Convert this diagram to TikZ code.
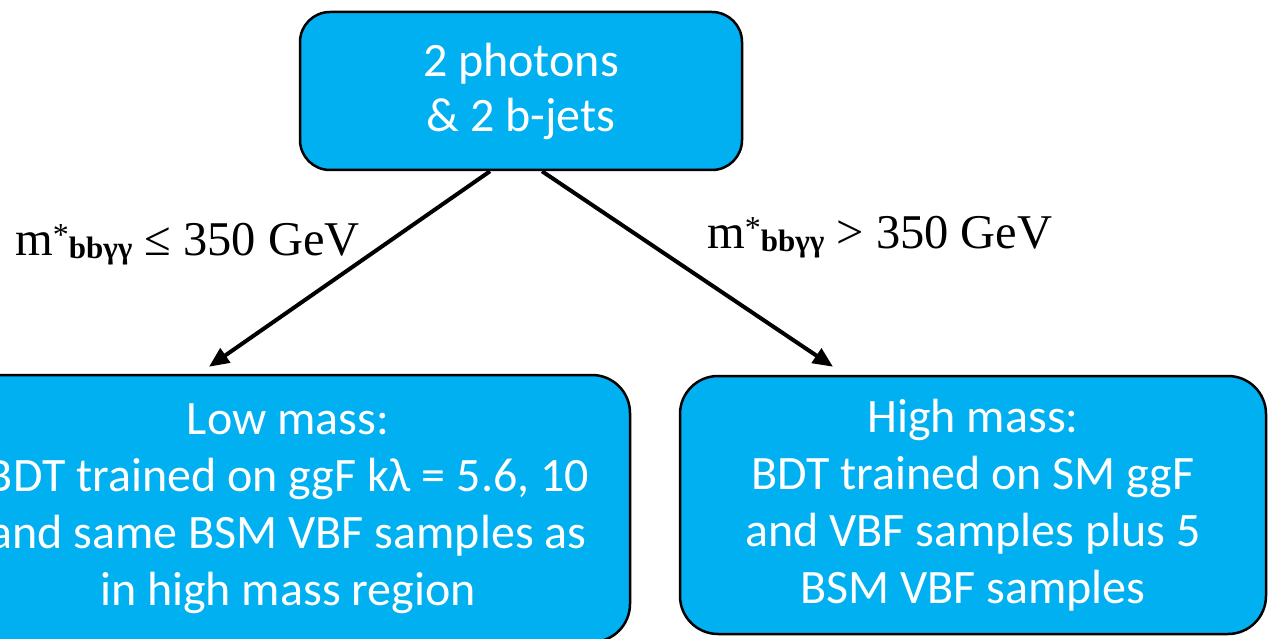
\documentclass[tikz,border=0pt]{standalone}
\usepackage{fontspec}
\setmainfont{Carlito}
\newfontfamily\tnr{Liberation Serif}
\usetikzlibrary{arrows.meta,calc}
\definecolor{boxblue}{RGB}{0,176,240}
\tikzset{
  box/.style={draw=black, line width=2.5pt, fill=boxblue, text=white,
    align=center, inner sep=0pt, font=\fontsize{48}{57}\selectfont},
  flow/.style={line width=4pt, -{Triangle[length=20pt,width=17pt]}},
  cutlabel/.style={inner sep=0pt, anchor=base west, font=\tnr\fontsize{48.5}{48.5}\selectfont}
}
\begin{document}
\begin{tikzpicture}[x=1pt,y=1pt]
\useasboundingbox (0,0) rectangle (1268,-639);
\clip (0,0) rectangle (1268,-639);
% selection step
\node[box, minimum width=442pt, minimum height=158pt, rounded corners=30pt,
      font=\fontsize{48}{55}\selectfont] (top) at (521,-91)
  {2 photons\\\& 2 b-jets};
% the two mass categories
\node[box, minimum width=684pt, minimum height=267pt, rounded corners=38pt] (low) at (288,-508.5)
  {Low mass:\\BDT trained on ggF kλ = 5.6, 10\\and same BSM VBF samples as\\in high mass region};
\node[box, minimum width=586pt, minimum height=258pt, rounded corners=38pt] (high) at (973,-505)
  {High mass:\\ BDT trained on SM ggF\\and VBF samples plus 5\\BSM VBF samples};
% arrow end points
\coordinate (lsrc) at ($(top.south)+(-31,0)$);
\coordinate (rsrc) at ($(top.south)+(21,0)$);
\coordinate (ldst) at ($(low.north)+(-79,7)$);
\coordinate (rdst) at ($(high.north)+(-140,8)$);
\draw[flow] (lsrc) -- (ldst);
\draw[flow] (rsrc) -- (rdst);
% cut labels
\node[cutlabel] (lcut) at (15,-255)
  {m\raisebox{10pt}{\fontsize{32}{32}\selectfont *}\raisebox{-3pt}{\fontsize{31}{31}\selectfont\bfseries bbγγ} ≤ 350 GeV};
\node[cutlabel] (hcut) at (707,-248)
  {m\raisebox{10pt}{\fontsize{32}{32}\selectfont *}\raisebox{-3pt}{\fontsize{31}{31}\selectfont\bfseries bbγγ} > 350 GeV};
\end{tikzpicture}
\end{document}
